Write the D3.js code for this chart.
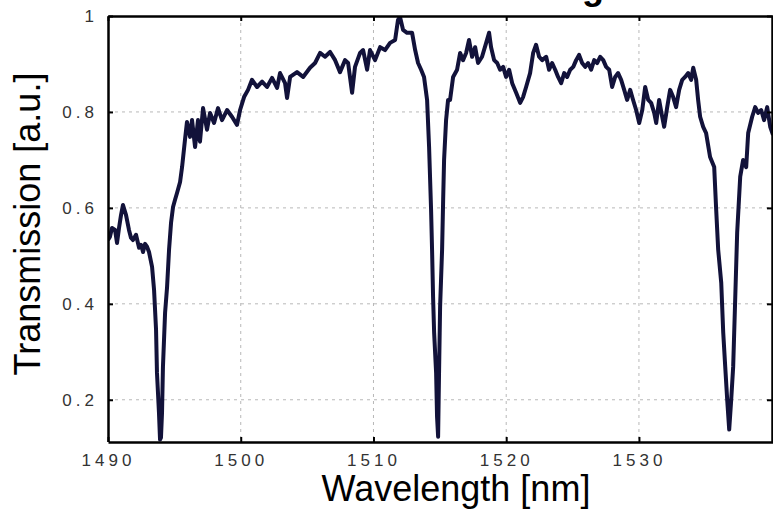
<!DOCTYPE html>
<html>
<head>
<meta charset="utf-8">
<script src="https://cdn.jsdelivr.net/npm/d3@7"></script>
<style>
  body { margin: 0; background: #fff; }
  svg { display: block; font-family: Arial, "Liberation Sans", sans-serif; }
</style>
</head>
<body>
<div class="result"></div>
<script>
// Width and height
const w = 773;
const h = 510;
const margin = { top: 16, right: 0, bottom: 68, left: 108 };

// Measured spectrum (wavelength in nm, transmission in a.u.)
const wavelength = [
  1490.00, 1490.15, 1490.30, 1490.53, 1490.68, 1490.83, 1490.98, 1491.13, 1491.36, 1491.58,
  1491.73, 1491.88, 1492.11, 1492.34, 1492.49, 1492.64, 1492.79, 1492.94, 1493.09, 1493.32,
  1493.47, 1493.62, 1493.69, 1493.84, 1493.92, 1493.99, 1494.07, 1494.14, 1494.30, 1494.45,
  1494.60, 1494.75, 1494.90, 1495.05, 1495.20, 1495.43, 1495.58, 1495.80, 1495.95, 1496.18,
  1496.33, 1496.56, 1496.78, 1496.93, 1497.16, 1497.46, 1497.69, 1497.99, 1498.29, 1498.59,
  1498.97, 1499.34, 1499.72, 1499.95, 1500.25, 1500.55, 1500.85, 1501.23, 1501.61, 1501.98,
  1502.36, 1502.74, 1502.96, 1503.34, 1503.49, 1503.72, 1504.24, 1504.70, 1505.22, 1505.60,
  1505.98, 1506.35, 1506.73, 1507.11, 1507.48, 1507.86, 1508.09, 1508.39, 1508.61, 1508.99,
  1509.22, 1509.52, 1509.74, 1510.12, 1510.50, 1510.87, 1511.25, 1511.63, 1511.85, 1512.00,
  1512.23, 1512.53, 1512.91, 1513.14, 1513.36, 1513.59, 1513.81, 1514.04, 1514.19, 1514.34,
  1514.42, 1514.49, 1514.57, 1514.72, 1514.79, 1514.87, 1514.94, 1515.02, 1515.17, 1515.25,
  1515.32, 1515.47, 1515.62, 1515.77, 1516.00, 1516.30, 1516.53, 1516.75, 1516.98, 1517.20,
  1517.43, 1517.66, 1517.88, 1518.18, 1518.49, 1518.71, 1518.86, 1519.09, 1519.32, 1519.54,
  1519.77, 1519.99, 1520.22, 1520.45, 1520.75, 1521.05, 1521.27, 1521.50, 1521.80, 1522.03,
  1522.25, 1522.48, 1522.71, 1523.01, 1523.23, 1523.46, 1523.69, 1523.91, 1524.14, 1524.37,
  1524.59, 1524.82, 1525.05, 1525.27, 1525.49, 1525.72, 1525.95, 1526.17, 1526.40, 1526.63,
  1526.85, 1527.08, 1527.31, 1527.53, 1527.76, 1527.98, 1528.21, 1528.43, 1528.66, 1528.89,
  1529.11, 1529.34, 1529.56, 1529.79, 1530.02, 1530.25, 1530.47, 1530.70, 1530.92, 1531.15,
  1531.30, 1531.52, 1531.75, 1531.90, 1532.13, 1532.35, 1532.58, 1532.80, 1533.03, 1533.26,
  1533.48, 1533.71, 1533.93, 1534.09, 1534.31, 1534.46, 1534.61, 1534.84, 1535.06, 1535.36,
  1535.67, 1535.82, 1535.97, 1536.20, 1536.35, 1536.50, 1536.65, 1536.80, 1536.95, 1537.10,
  1537.25, 1537.40, 1537.63, 1537.85, 1538.08, 1538.23, 1538.53, 1538.76, 1538.98, 1539.21,
  1539.43, 1539.66, 1539.89, 1540.10
];
const transmission = [
  0.533, 0.540, 0.558, 0.554, 0.527, 0.558, 0.585, 0.606, 0.585, 0.554,
  0.538, 0.533, 0.544, 0.517, 0.523, 0.508, 0.525, 0.519, 0.508, 0.477,
  0.429, 0.346, 0.256, 0.173, 0.117, 0.121, 0.173, 0.269, 0.381, 0.435,
  0.513, 0.569, 0.602, 0.617, 0.631, 0.654, 0.685, 0.742, 0.779, 0.748,
  0.783, 0.727, 0.783, 0.738, 0.808, 0.763, 0.798, 0.777, 0.808, 0.783,
  0.804, 0.790, 0.773, 0.804, 0.831, 0.846, 0.867, 0.852, 0.863, 0.852,
  0.871, 0.850, 0.881, 0.860, 0.829, 0.873, 0.883, 0.873, 0.892, 0.902,
  0.923, 0.915, 0.925, 0.908, 0.883, 0.908, 0.902, 0.840, 0.894, 0.923,
  0.929, 0.888, 0.929, 0.908, 0.935, 0.929, 0.944, 0.950, 0.992, 0.998,
  0.971, 0.965, 0.965, 0.929, 0.902, 0.888, 0.873, 0.825, 0.727, 0.596,
  0.506, 0.415, 0.340, 0.256, 0.165, 0.123, 0.256, 0.394, 0.513, 0.617,
  0.700, 0.783, 0.825, 0.825, 0.873, 0.888, 0.923, 0.908, 0.923, 0.950,
  0.915, 0.935, 0.902, 0.915, 0.944, 0.965, 0.935, 0.908, 0.902, 0.888,
  0.894, 0.873, 0.888, 0.860, 0.840, 0.819, 0.831, 0.852, 0.881, 0.923,
  0.940, 0.915, 0.908, 0.915, 0.888, 0.902, 0.888, 0.873, 0.860, 0.881,
  0.873, 0.888, 0.894, 0.908, 0.919, 0.902, 0.894, 0.902, 0.888, 0.908,
  0.902, 0.915, 0.908, 0.894, 0.888, 0.852, 0.873, 0.881, 0.867, 0.846,
  0.825, 0.846, 0.825, 0.804, 0.777, 0.804, 0.852, 0.825, 0.819, 0.798,
  0.777, 0.825, 0.790, 0.769, 0.810, 0.846, 0.831, 0.810, 0.846, 0.867,
  0.873, 0.881, 0.867, 0.892, 0.867, 0.825, 0.790, 0.769, 0.756, 0.706,
  0.685, 0.596, 0.513, 0.444, 0.340, 0.269, 0.200, 0.138, 0.200, 0.269,
  0.408, 0.548, 0.665, 0.700, 0.685, 0.756, 0.790, 0.810, 0.798, 0.804,
  0.783, 0.810, 0.769, 0.752
];

// Tick values
const xTicks = [1490, 1500, 1510, 1520, 1530];
const yTicks = [0.2, 0.4, 0.6, 0.8, 1];

const dataset = wavelength.map(function (d, i) { return [d, transmission[i]]; });

// Scales
const xScale = d3.scaleLinear()
  .domain([1490, 1540.1])
  .range([margin.left, w - margin.right]);

const yScale = d3.scaleLinear()
  .domain([0.113, 1])
  .range([h - margin.bottom - 0.5, margin.top]);

const svg = d3.select('.result')
  .append('svg')
  .attr('width', w)
  .attr('height', h);

// Title (mostly above the visible frame)
svg.append('text')
  .attr('x', 604)
  .attr('y', -1)
  .attr('text-anchor', 'end')
  .style('font-size', '36px')
  .style('font-weight', 'bold')
  .text('Transmission of Microring');

// Grid lines
const grid = svg.append('g').attr('class', 'grid');
grid.selectAll('line.gx')
  .data(xTicks.slice(1))
  .enter()
  .append('line')
  .attr('class', 'gx')
  .attr('x1', function (d) { return xScale(d); })
  .attr('x2', function (d) { return xScale(d); })
  .attr('y1', margin.top)
  .attr('y2', h - margin.bottom)
  .attr('stroke', '#b8b8b8')
  .attr('stroke-width', 1)
  .attr('stroke-dasharray', '3,4');
grid.selectAll('line.gy')
  .data(yTicks.slice(0, 4))
  .enter()
  .append('line')
  .attr('class', 'gy')
  .attr('x1', margin.left)
  .attr('x2', w)
  .attr('y1', function (d) { return yScale(d); })
  .attr('y2', function (d) { return yScale(d); })
  .attr('stroke', '#b8b8b8')
  .attr('stroke-width', 1)
  .attr('stroke-dasharray', '3,4');

// Clip for the curve
svg.append('clipPath')
  .attr('id', 'plotclip')
  .append('rect')
  .attr('x', margin.left)
  .attr('y', margin.top)
  .attr('width', w - margin.left)
  .attr('height', h - margin.bottom - margin.top);

// Spectrum line
const line = d3.line()
  .x(function (d) { return xScale(d[0]); })
  .y(function (d) { return yScale(d[1]); });

svg.append('path')
  .datum(dataset)
  .attr('clip-path', 'url(#plotclip)')
  .attr('fill', 'none')
  .attr('stroke', '#12123a')
  .attr('stroke-width', 4)
  .attr('stroke-linejoin', 'round')
  .attr('d', line);

// Axes (box style, inward ticks)
const xAxisBottom = d3.axisBottom(xScale)
  .tickValues(xTicks)
  .tickSizeInner(-5)
  .tickSizeOuter(0)
  .tickPadding(12)
  .tickFormat(d3.format('d'));

const xAxisTop = d3.axisTop(xScale)
  .tickValues(xTicks)
  .tickSizeInner(-5)
  .tickSizeOuter(0)
  .tickFormat('');

const yAxisLeft = d3.axisLeft(yScale)
  .tickValues(yTicks)
  .tickSizeInner(-5)
  .tickSizeOuter(0)
  .tickPadding(10)
  .tickFormat(function (d) { return d === 1 ? '1' : d3.format('.1f')(d); });

const yAxisRight = d3.axisRight(yScale)
  .tickValues(yTicks)
  .tickSizeInner(-5)
  .tickSizeOuter(0)
  .tickFormat('');

svg.append('g')
  .attr('class', 'axis')
  .attr('transform', 'translate(0,' + (h - margin.bottom) + ')')
  .call(xAxisBottom);

svg.append('g')
  .attr('class', 'axis')
  .attr('transform', 'translate(0,' + margin.top + ')')
  .call(xAxisTop);

svg.append('g')
  .attr('class', 'axis')
  .attr('transform', 'translate(' + margin.left + ',0)')
  .call(yAxisLeft);

svg.append('g')
  .attr('class', 'axis')
  .attr('transform', 'translate(' + (w - 1) + ',0)')
  .call(yAxisRight);

svg.selectAll('.axis path').attr('stroke', '#000').attr('stroke-width', 2.5);
svg.selectAll('.axis line').attr('stroke', '#000').attr('stroke-width', 2);
svg.selectAll('.axis text')
  .attr('fill', '#333')
  .style('font-size', '17px')
  .style('letter-spacing', '4px')
  .style('font-family', '"Liberation Sans Narrow", Arial, sans-serif');

// Axis labels
svg.append('text')
  .attr('x', 456)
  .attr('y', 501)
  .attr('text-anchor', 'middle')
  .style('font-size', '36px')
  .text('Wavelength [nm]');

svg.append('text')
  .attr('transform', 'translate(40,224) rotate(-90)')
  .attr('text-anchor', 'middle')
  .style('font-size', '36px')
  .text('Transmission [a.u.]');
</script>
</body>
</html>
